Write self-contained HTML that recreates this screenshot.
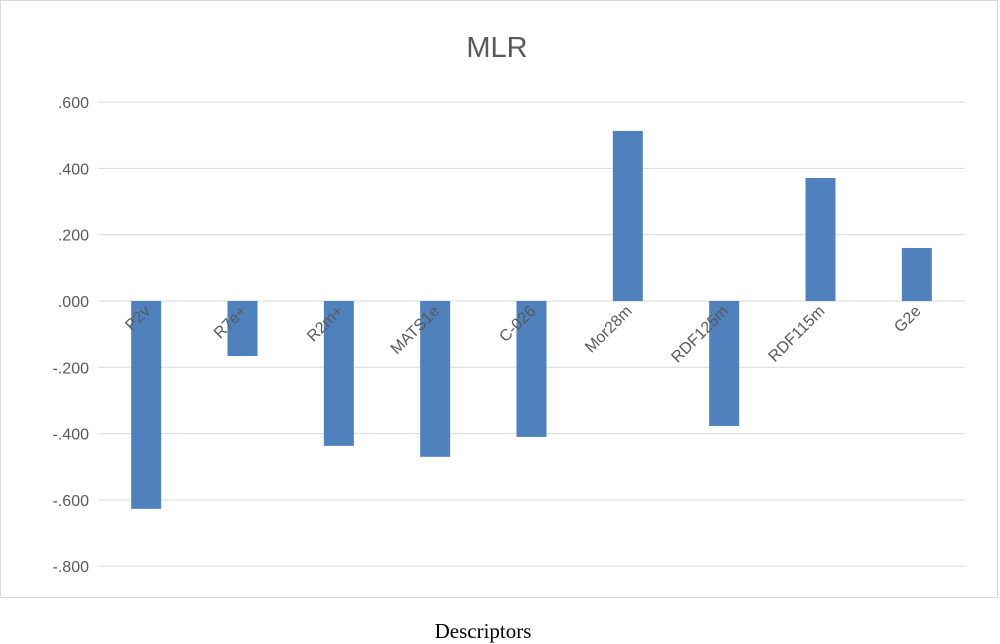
<!DOCTYPE html>
<html><head><meta charset="utf-8"><style>
body{margin:0;background:#fff;}
svg{display:block;font-family:"Liberation Sans",sans-serif;}
</style></head><body>
<svg id="chart" width="1000" height="644">
<rect x="0.5" y="0.5" width="997" height="597" fill="#fff" stroke="#d9d9d9"/>
<text x="497" y="57" text-anchor="middle" font-size="29" fill="#595959">MLR</text>
<g id="grid"></g><g id="bars"></g><g id="labels"></g>
<text x="483" y="638" text-anchor="middle" font-family="Liberation Serif,serif" font-size="21" fill="#000">Descriptors</text>
</svg>
<script>
const categories=["P2v","R7e+","R2m+","MATS1e","C-026","Mor28m","RDF125m","RDF115m","G2e"];
const values=[-0.627,-0.166,-0.437,-0.47,-0.41,0.513,-0.377,0.371,0.16];
const ticks=[0.6,0.4,0.2,0,-0.2,-0.4,-0.6,-0.8];
const tickLabels=[".600",".400",".200",".000","-.200","-.400","-.600","-.800"];
const NS="http://www.w3.org/2000/svg";
const left=98,right=965,y0=301,pxPer=331.5;
const y=v=>y0-v*pxPer;
const band=(right-left)/categories.length;
const x=i=>left+band*(i+0.5);
function mk(t,a,p){const e=document.createElementNS(NS,t);for(const k in a)e.setAttribute(k,a[k]);p.appendChild(e);return e;}
const g=document.getElementById('grid');
ticks.forEach((t,i)=>{
 const l=mk('line',{x1:left,x2:right,y1:y(t),y2:y(t),stroke:'#d9d9d9','stroke-width':1},g);
 
 
 const tx=mk('text',{x:89,y:y(t)+6,'text-anchor':'end','font-size':16,fill:'#595959'},g);
 tx.textContent=tickLabels[i];
 
 
});
const b=document.getElementById('bars');
values.forEach((v,i)=>{
 const r=mk('rect',{x:x(i)-15,width:30,y:Math.min(y(v),y0),height:Math.abs(y(v)-y0),fill:'#4f81bd'},b);
 
 
});
const lg=document.getElementById('labels');
categories.forEach((c,i)=>{
 const cx=x(i)+5,cy=312;
 const t=mk('text',{x:cx,y:cy,'text-anchor':'end','font-size':16,fill:'#595959',transform:`rotate(-45 ${cx} ${cy})`},lg);
 t.textContent=c;
 
 
});
</script>
</body></html>
